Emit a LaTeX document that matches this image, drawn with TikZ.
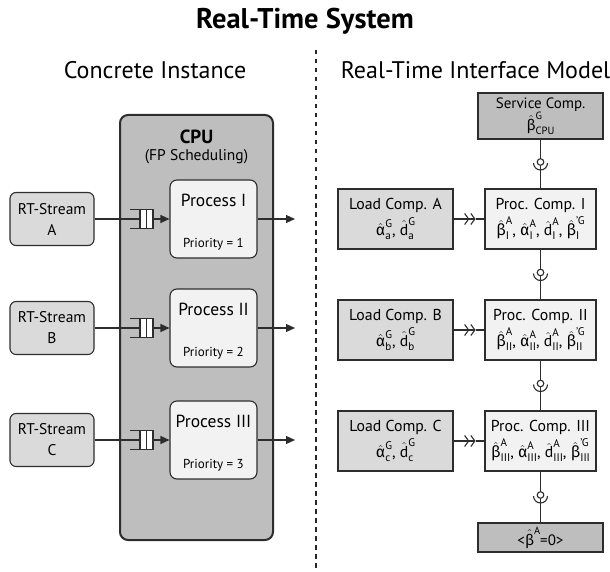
\documentclass[tikz,border=0pt]{standalone}
\usepackage{amsmath}
\usepackage{fontspec}
\setmainfont{PT Sans}
\newfontfamily\grk{Fira Sans}
\usetikzlibrary{arrows.meta,calc}

\definecolor{cpugray}{RGB}{190,190,190}
\definecolor{procfill}{RGB}{242,242,242}
\definecolor{streamfill}{RGB}{218,218,218}
\definecolor{loadfill}{RGB}{218,218,218}
\definecolor{svcfill}{RGB}{190,190,190}
\definecolor{edgecol}{RGB}{45,45,45}

% hatted symbol with super- and subscript
\setlength{\scriptspace}{0pt}
\newcommand\hsym[3]{\ensuremath{\hat{\text{#1}}^{\text{#2}}_{\text{#3}}}}
\newcommand\gbeta{{\grk β}}
\newcommand\galpha{{\grk α}}

\tikzset{
  base/.style={draw=edgecol, line width=1.1pt, align=center, inner sep=0pt},
  stream/.style={base, fill=streamfill, rounded corners=6pt,
    minimum width=84pt, minimum height=53pt, font=\fontsize{15.5}{21}\selectfont},
  cpubox/.style={draw=edgecol, line width=2pt, fill=cpugray, rounded corners=8pt,
    minimum width=153pt, minimum height=425pt},
  procbox/.style={base, fill=procfill, rounded corners=7pt,
    minimum width=87pt, minimum height=78pt},
  svcbox/.style={base, fill=svcfill, minimum width=125pt, font=\fontsize{15}{18}\selectfont},
  loadbox/.style={base, fill=loadfill, minimum width=115pt, minimum height=60pt,
    font=\fontsize{15.8}{18}\selectfont},
  pcbox/.style={base, fill=procfill, minimum width=111pt, minimum height=60pt,
    font=\fontsize{15.8}{18}\selectfont},
  flow/.style={draw=edgecol, line width=1.1pt},
  tri/.style={flow, -{Triangle[length=9pt,width=8pt]}},
  dbl/.style={flow, -{Straight Barb[length=4pt,width=11pt,line width=1.1pt,sep=1pt]Straight Barb[length=4pt,width=11pt,line width=1.1pt]}},
  divider/.style={line width=2.6pt, dash pattern=on 4.5pt off 4.5pt, draw=black!85},
  heading/.style={font=\fontsize{24}{28}\selectfont},
}

% queue symbol in front of a process
\newcommand\queuesym[1]{%
  \fill[white] ($(#1)+(-13pt,-9.5pt)$) rectangle ($(#1)+(0pt,9.5pt)$);
  \draw[flow] ($(#1)+(-23pt,9.5pt)$) -- ($(#1)+(0pt,9.5pt)$) -- ($(#1)+(0pt,-9.5pt)$) -- ($(#1)+(-23pt,-9.5pt)$);
  \draw[flow] ($(#1)+(-13pt,9.5pt)$) -- ($(#1)+(-13pt,-9.5pt)$);
  \draw[flow] ($(#1)+(-6.5pt,9.5pt)$) -- ($(#1)+(-6.5pt,-9.5pt)$);
}
% ball-and-socket mark on a vertical connector
\newcommand\ballsock[1]{%
  \draw[flow, fill=white] ($(#1)+(0,2pt)$) circle (3.3pt);
  \draw[flow] ($(#1)+(-7pt,1pt)$) arc[start angle=180, end angle=360, radius=7pt];
}

\begin{document}
\begin{tikzpicture}[x=1pt, y=-1pt]
\useasboundingbox (0,0) rectangle (610,572);

% headings
\node[font=\fontsize{28.5}{31}\bfseries\selectfont] (title) at (305,21) {Real-Time System};
\node[heading] (hleft) at (155,70) {Concrete Instance};
\node[heading] (hright) at (475.5,70) {Real-Time Interface Model};

% divider
\coordinate (divtop) at (316,50);
\coordinate (divbot) at (316,572);
\draw[divider] (divtop) -- (divbot);

% ---------- concrete instance ----------
\node[cpubox] (cpu) at (196.5,327.5) {};
\node[font=\fontsize{19}{22}\bfseries\selectfont] (cpulbl) at (196.5,137) {CPU};
\node[font=\fontsize{15.5}{18}\selectfont] (cpusched) at (196.5,157) {(FP Scheduling)};

\foreach \id/\rn/\yy/\pr/\sl in {a/I/219/1/A, b/II/328/2/B, c/III/440/3/C}{
  \node[stream] (st\id) at (52,\yy) {RT-Stream\\\sl};
  \node[procbox] (pr\id) at (213.5,\yy) {};
  \node[font=\fontsize{17.5}{20}\selectfont] (prn\id) at ([yshift=-21pt]pr\id.north) {Process \rn};
  \node[font=\fontsize{13}{15}\selectfont] (prp\id) at ([yshift=14pt]pr\id.south) {Priority = \pr};
  \coordinate (q\id) at (153,\yy);
  \coordinate (qin\id) at (140,\yy);
  \coordinate (out\id) at (295,\yy);
  \draw[flow] (st\id.east) -- (qin\id);
  \queuesym{q\id}
  \draw[tri] (q\id) -- (pr\id.west);
  \draw[tri] (pr\id.east) -- (out\id);
}

% ---------- real-time interface model ----------
\node[svcbox, minimum height=46pt] (svc) at (540.5,116)
  {Service Comp.\\[0pt] \hsym{\gbeta}{G}{CPU}};

\node[loadbox] (lda) at (395.5,219) {Load Comp. A\\[3pt] \hsym{\galpha}{G}{a}, \hsym{d}{G}{a}};
\node[loadbox] (ldb) at (395.5,330) {Load Comp. B\\[3pt] \hsym{\galpha}{G}{b}, \hsym{d}{G}{b}};
\node[loadbox] (ldc) at (395.5,441) {Load Comp. C\\[3pt] \hsym{\galpha}{G}{c}, \hsym{d}{G}{c}};

\node[pcbox] (pca) at (540.5,219) {Proc. Comp. I\\[3pt]
  \hsym{\gbeta}{A}{I}, \hsym{\galpha}{A}{I}, \hsym{d}{A}{I}, \hsym{\gbeta}{'G}{I}};
\node[pcbox] (pcb) at (540.5,330) {Proc. Comp. II\\[3pt]
  \hsym{\gbeta}{A}{II}, \hsym{\galpha}{A}{II}, \hsym{d}{A}{II}, \hsym{\gbeta}{'G}{II}};
\node[pcbox] (pcc) at (540.5,441) {Proc. Comp. III\\[3pt]
  \hsym{\gbeta}{A}{III}, \hsym{\galpha}{A}{III}, \hsym{d}{A}{III}, \hsym{\gbeta}{'G}{III}};

\node[svcbox, minimum height=29pt] (zero) at (540.5,537.5)
  {\ensuremath{\text{<}\hat{\text{\gbeta}}^{\text{A}}\text{=0>}}};

% load -> processing connectors
\foreach \id in {a,b,c}{
  \coordinate (mid\id) at ($(ld\id.east)+(22pt,0)$);
  \draw[dbl] (ld\id.east) -- (mid\id);
  \draw[flow] (mid\id) -- (pc\id.west);
}

% service chain with ball-and-socket marks
\foreach \from/\to/\k in {svc/pca/1, pca/pcb/2, pcb/pcc/3, pcc/zero/4}{
  \draw[flow] (\from.south) -- (\to.north);
  \coordinate (bs\k) at ($(\from.south)!0.5!(\to.north)$);
  \ballsock{bs\k}
}
\end{tikzpicture}
\end{document}
